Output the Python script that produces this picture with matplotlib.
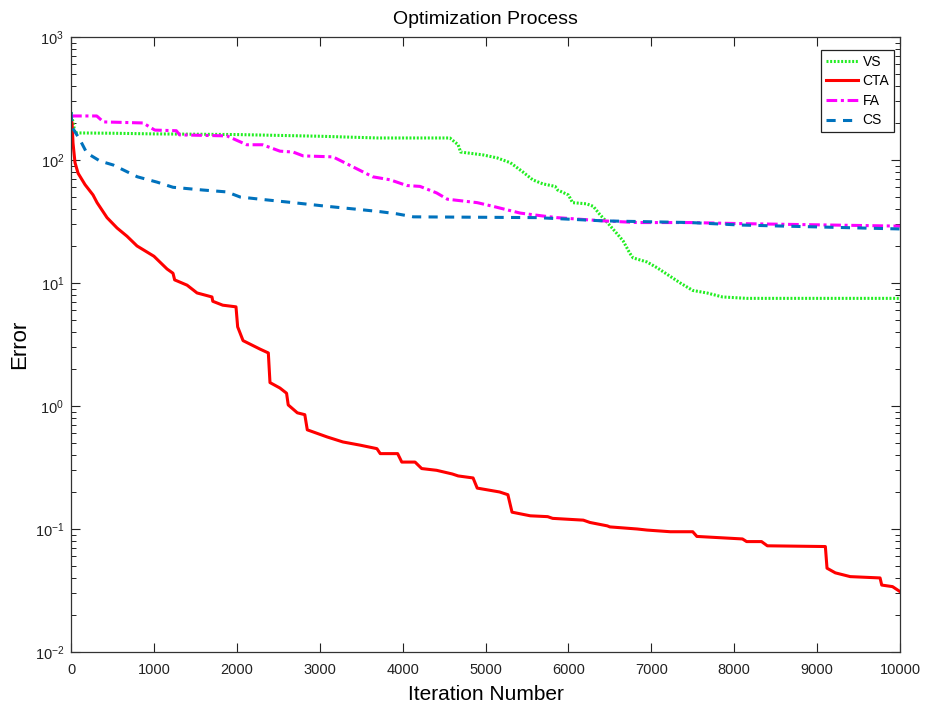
import matplotlib
matplotlib.use("Agg")
import matplotlib.pyplot as plt
from matplotlib.ticker import LogLocator, FixedLocator

plt.rcParams['font.family'] = ['Liberation Sans', 'DejaVu Sans']
plt.rcParams['mathtext.fontset'] = 'custom'
plt.rcParams['mathtext.rm'] = 'Liberation Sans'
plt.rcParams['mathtext.it'] = 'Liberation Sans:italic'
plt.rcParams['mathtext.bf'] = 'Liberation Sans:bold'
plt.rcParams['axes.unicode_minus'] = False

# ---- data ----
vs_iter = [0, 48, 500, 1000, 2000, 3000, 3700, 4570, 4670, 4700, 4970, 5140, 5300,
           5450, 5570, 5690, 5840, 5870, 6000, 6050, 6220, 6300, 6380, 6470, 6590,
           6660, 6740, 6780, 6950, 7070, 7350, 7500, 7670, 7860, 8150, 10000]
vs_err = [245, 166, 165, 163, 161, 156, 151, 151, 133, 116, 110, 104, 95,
          80, 69, 64, 61, 57, 52, 45, 44, 42, 36, 31, 25,
          22, 17.5, 16, 14.8, 13.3, 10, 8.7, 8.3, 7.7, 7.5, 7.5]

cta_iter = [0, 12, 24, 48, 85, 169, 265, 314, 434, 555, 675, 796, 1000, 1158,
            1230, 1250, 1400, 1520, 1700, 1710, 1830, 1990, 2010, 2075, 2280,
            2380, 2400, 2520, 2600, 2620, 2730, 2820, 2850, 3090, 3280, 3490,
            3690, 3730, 3940, 3990, 4150, 4230, 4410, 4600, 4670, 4850, 4900,
            5170, 5270, 5320, 5540, 5750, 5810, 6180, 6260, 6470, 6500, 6830,
            6950, 7230, 7500, 7550, 8100, 8150, 8330, 8400, 9100, 9120, 9220,
            9400, 9760, 9780, 9910, 10000]
cta_err = [215, 200, 137, 95, 78, 63, 52, 45, 34, 28, 24, 20, 16.5, 13,
           12, 10.6, 9.6, 8.3, 7.7, 7.1, 6.6, 6.4, 4.4, 3.4, 2.9,
           2.7, 1.55, 1.4, 1.27, 1.02, 0.88, 0.85, 0.64, 0.56, 0.51, 0.48,
           0.45, 0.41, 0.41, 0.35, 0.35, 0.31, 0.30, 0.28, 0.27, 0.26, 0.215,
           0.20, 0.19, 0.137, 0.128, 0.126, 0.122, 0.118, 0.113, 0.106, 0.104, 0.100,
           0.098, 0.095, 0.095, 0.087, 0.083, 0.079, 0.079, 0.073, 0.072, 0.048, 0.044,
           0.041, 0.040, 0.035, 0.034, 0.031]

fa_iter = [0, 310, 390, 870, 1010, 1270, 1310, 1880, 2120, 2310, 2520, 2680, 2800,
           3160, 3400, 3640, 3850, 4050, 4210, 4410, 4540, 4900, 5090, 5420, 5700,
           5860, 6420, 6830, 7470, 8070, 10000]
fa_err = [228, 228, 204, 200, 175, 173, 160, 157, 133, 133, 118, 116, 108,
          106, 88, 73, 69, 62, 61, 54, 48, 45, 42, 37, 35,
          34, 32, 31, 31, 30.4, 29]

cs_iter = [0, 12, 110, 190, 350, 510, 800, 1040, 1230, 1590, 1880, 2040, 2280,
           2680, 3090, 3490, 3730, 3930, 4130, 5620, 6420, 7470, 8070, 10000]
cs_err = [245, 185, 145, 114, 98, 91, 73, 66, 60, 57, 55, 50, 48,
          45, 42, 39.5, 38, 36.5, 34.5, 34, 32, 31, 29.6, 27.5]

x_ticks = [0, 1000, 2000, 3000, 4000, 5000, 6000, 7000, 8000, 9000, 10000]

# ---- plot ----
fig = plt.figure(figsize=(9.36, 7.10), dpi=100)
ax = fig.add_axes([0.0759, 0.0817, 0.8856, 0.8662])

lw = 2.2
ax.plot(vs_iter, vs_err, color='#22ee22', linestyle=(0, (0.65, 0.55)), linewidth=lw, label='VS')
ax.plot(cta_iter, cta_err, color='#ff0000', linestyle='-', linewidth=lw, label='CTA')
ax.plot(fa_iter, fa_err, color='#ff00ff', linestyle=(0, (3.5, 1.2, 1, 1.2)), linewidth=lw, label='FA')
ax.plot(cs_iter, cs_err, color='#0072bd', linestyle=(0, (3, 2.4)), linewidth=lw, label='CS')

ax.set_yscale('log')
ax.set_xlim(0, 10000)
ax.set_ylim(1e-2, 1e3)
ax.xaxis.set_major_locator(FixedLocator(x_ticks))
ax.set_xticklabels([str(t) for t in x_ticks])
ax.yaxis.set_major_locator(LogLocator(base=10, numticks=10))
ax.yaxis.set_minor_locator(LogLocator(base=10, subs=range(2, 10), numticks=20))

ax.tick_params(which='both', direction='in', top=True, right=True, labelsize=10.5, colors='#222222')
ax.tick_params(which='major', length=6.5, width=0.8)
ax.tick_params(which='minor', length=3.5, width=0.7)
ax.tick_params(axis='x', which='major', pad=8)
ax.tick_params(axis='y', which='major', pad=5)
for s in ax.spines.values():
    s.set_color('#333333')
    s.set_linewidth(0.9)

ax.set_title('Optimization Process', fontsize=14, pad=9)
ax.set_xlabel('Iteration Number', fontsize=15, labelpad=6)
ax.set_ylabel('Error', fontsize=16, labelpad=3)

leg = ax.legend(loc='upper right', bbox_to_anchor=(0.993, 0.979), borderaxespad=0,
                fontsize=10, handlelength=2.3, handletextpad=0.35, labelspacing=0.4,
                fancybox=False, framealpha=1, edgecolor='#222222', borderpad=0.35)
leg.get_frame().set_linewidth(0.9)

fig.savefig('out.png', dpi=100)
